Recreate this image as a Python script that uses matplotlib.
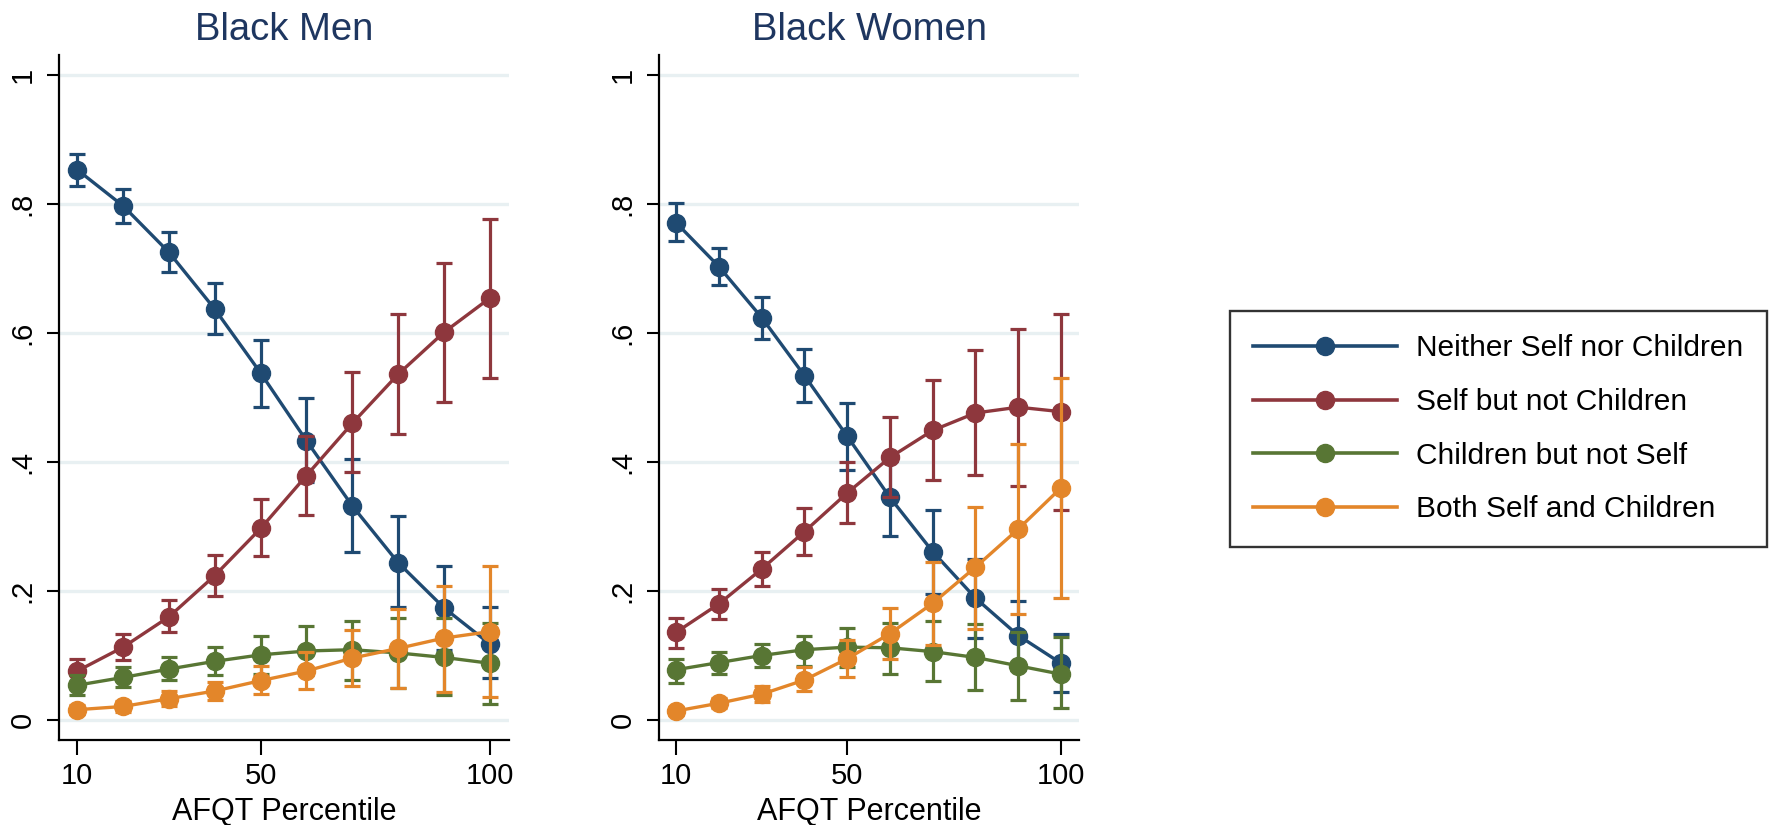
import numpy as np
import matplotlib
matplotlib.use("Agg")
from matplotlib import pyplot as plt

plt.rcParams['font.family'] = ['Liberation Sans', 'DejaVu Sans']

# AFQT percentile bins
afqt = [10, 20, 30, 40, 50, 60, 70, 80, 90, 100]
series_names = ['Neither Self nor Children', 'Self but not Children',
                'Children but not Self', 'Both Self and Children']
panel_titles = ['Black Men', 'Black Women']

# Black Men: point estimates and CI bounds
men_neither = [0.853, 0.797, 0.725, 0.637, 0.538, 0.433, 0.332, 0.244, 0.174, 0.118]
men_neither_lo = [0.828, 0.770, 0.694, 0.598, 0.486, 0.369, 0.261, 0.175, 0.109, 0.065]
men_neither_hi = [0.878, 0.824, 0.756, 0.677, 0.589, 0.499, 0.405, 0.317, 0.239, 0.175]

men_self = [0.076, 0.113, 0.160, 0.224, 0.297, 0.379, 0.460, 0.536, 0.601, 0.654]
men_self_lo = [0.058, 0.093, 0.137, 0.193, 0.254, 0.318, 0.385, 0.444, 0.493, 0.530]
men_self_hi = [0.095, 0.133, 0.186, 0.256, 0.342, 0.440, 0.539, 0.629, 0.708, 0.777]

men_child = [0.054, 0.066, 0.079, 0.091, 0.101, 0.107, 0.109, 0.104, 0.097, 0.088]
men_child_lo = [0.038, 0.051, 0.062, 0.069, 0.071, 0.070, 0.062, 0.050, 0.039, 0.025]
men_child_hi = [0.070, 0.082, 0.097, 0.113, 0.130, 0.145, 0.154, 0.158, 0.158, 0.151]

men_both = [0.016, 0.021, 0.033, 0.045, 0.061, 0.076, 0.096, 0.111, 0.127, 0.137]
men_both_lo = [0.009, 0.012, 0.021, 0.031, 0.040, 0.048, 0.052, 0.050, 0.044, 0.036]
men_both_hi = [0.024, 0.030, 0.045, 0.059, 0.083, 0.105, 0.140, 0.172, 0.207, 0.238]

# Black Women
wom_neither = [0.771, 0.703, 0.624, 0.534, 0.440, 0.345, 0.261, 0.189, 0.131, 0.088]
wom_neither_lo = [0.742, 0.675, 0.591, 0.493, 0.387, 0.285, 0.196, 0.127, 0.078, 0.043]
wom_neither_hi = [0.801, 0.732, 0.656, 0.575, 0.492, 0.402, 0.326, 0.250, 0.185, 0.133]

wom_self = [0.136, 0.180, 0.234, 0.292, 0.352, 0.407, 0.449, 0.476, 0.485, 0.478]
wom_self_lo = [0.112, 0.156, 0.207, 0.256, 0.305, 0.345, 0.372, 0.380, 0.363, 0.326]
wom_self_hi = [0.158, 0.203, 0.261, 0.328, 0.400, 0.470, 0.527, 0.573, 0.606, 0.629]

wom_child = [0.078, 0.089, 0.100, 0.109, 0.113, 0.112, 0.106, 0.097, 0.084, 0.071]
wom_child_lo = [0.058, 0.071, 0.082, 0.084, 0.082, 0.071, 0.060, 0.046, 0.031, 0.019]
wom_child_hi = [0.095, 0.106, 0.118, 0.131, 0.142, 0.151, 0.153, 0.149, 0.137, 0.128]

wom_both = [0.014, 0.026, 0.040, 0.062, 0.095, 0.134, 0.181, 0.237, 0.296, 0.360]
wom_both_lo = [0.008, 0.018, 0.028, 0.045, 0.067, 0.095, 0.116, 0.141, 0.165, 0.189]
wom_both_hi = [0.020, 0.034, 0.052, 0.082, 0.124, 0.174, 0.245, 0.331, 0.428, 0.530]

colors = ['#1f4a72', '#8e373d', '#587634', '#e3862a']

panels = [
    [(men_neither, men_neither_lo, men_neither_hi),
     (men_self, men_self_lo, men_self_hi),
     (men_child, men_child_lo, men_child_hi),
     (men_both, men_both_lo, men_both_hi)],
    [(wom_neither, wom_neither_lo, wom_neither_hi),
     (wom_self, wom_self_lo, wom_self_hi),
     (wom_child, wom_child_lo, wom_child_hi),
     (wom_both, wom_both_lo, wom_both_hi)],
]

W, H = 1778, 825
fig = plt.figure(figsize=(W / 100, H / 100), dpi=100)
fig.patch.set_facecolor('white')

# axes boxes in pixels: (left, right) ; shared top/bottom
boxes = [(59, 509), (659, 1079)]
top_px, bot_px = 55, 740

for k, (l, r) in enumerate(boxes):
    ax = fig.add_axes([l / W, 1 - bot_px / H, (r - l) / W, (bot_px - top_px) / H])
    for i, (y, lo, hi) in enumerate(panels[k]):
        y = np.array(y)
        yerr = np.vstack([y - np.array(lo), np.array(hi) - y])
        ax.errorbar(afqt, y, yerr=yerr, fmt='-o', color=colors[i],
                    ms=13, lw=2.4, elinewidth=2.3, capsize=6, capthick=2.3,
                    zorder=3 + i, label=series_names[i])
    ax.set_xlim(6, 104.2)
    ax.set_ylim(-0.031, 1.031)
    ax.set_yticks([0, 0.2, 0.4, 0.6, 0.8, 1.0])
    ax.set_yticklabels(['0', '.2', '.4', '.6', '.8', '1'], rotation=90, va='center')
    ax.set_xticks([10, 50, 100])
    ax.set_xticklabels(['10', '50', '100'])
    ax.grid(axis='y', color='#e8f0f2', lw=2.4, zorder=0)
    ax.set_axisbelow(True)
    for s in ['top', 'right']:
        ax.spines[s].set_visible(False)
    for s in ['left', 'bottom']:
        ax.spines[s].set_linewidth(1.6)
    ax.tick_params(axis='both', width=1.5, labelsize=21)
    ax.tick_params(axis='x', length=11, pad=5)
    ax.tick_params(axis='y', length=9, pad=7)
    ax.set_xlabel('AFQT Percentile', fontsize=22, labelpad=5)
    ax.set_title(panel_titles[k], fontsize=27.5, color='#1e3660', pad=11)

leg_handles = [plt.Line2D([], [], color=c, marker='o', ms=13, lw=2.6) for c in colors]
leg = fig.legend(leg_handles, series_names, loc='upper left',
                 bbox_to_anchor=(1230 / W, 1 - 311 / H), borderaxespad=0,
                 fontsize=21.5, frameon=True, fancybox=False, edgecolor='black',
                 handlelength=4.8, handletextpad=0.65, labelspacing=0.86,
                 borderpad=0.78)
leg.get_frame().set_linewidth(1.7)

fig.savefig('out.png', dpi=100)
